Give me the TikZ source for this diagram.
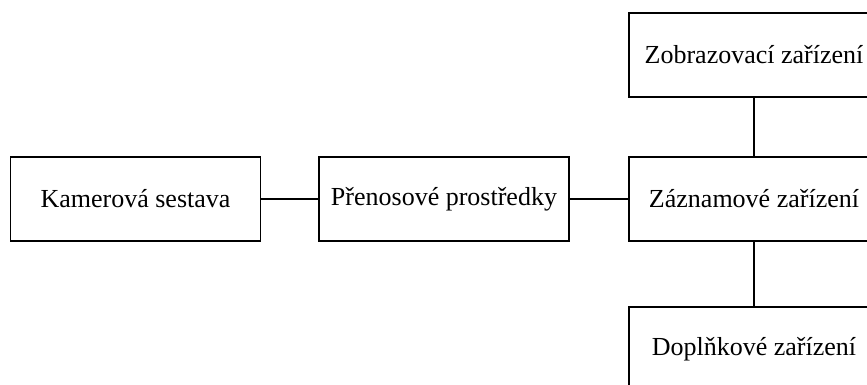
\documentclass[tikz,border=0pt]{standalone}
\usepackage{fontspec}
\setmainfont{Liberation Serif}
\begin{document}
\begin{tikzpicture}[x=1pt,y=1pt,
  blok/.style={draw, line width=1.6pt, minimum width=250pt, minimum height=84pt, inner sep=0pt, font=\fontsize{26}{30}\selectfont},
  spoj/.style={line width=1.6pt}]
\useasboundingbox (0,0) rectangle (867,-385);
\clip (0,0) rectangle (867,-385);
\node[blok] (kam) at (135.5,-199) {Kamerová sestava};
\node[blok] (pre) at (444,-199) {Přenosové prostředky};
\node[blok] (zaz) at (754,-199) {Záznamové zařízení};
\node[blok] (zob) at (754,-55) {Zobrazovací zařízení};
\node[blok] (dop) at (754,-349) {Doplňkové zařízení};
\draw[spoj] (kam) -- (pre);
\draw[spoj] (pre) -- (zaz);
\draw[spoj] (zob) -- (zaz);
\draw[spoj] (zaz) -- (dop);
\end{tikzpicture}
\end{document}
